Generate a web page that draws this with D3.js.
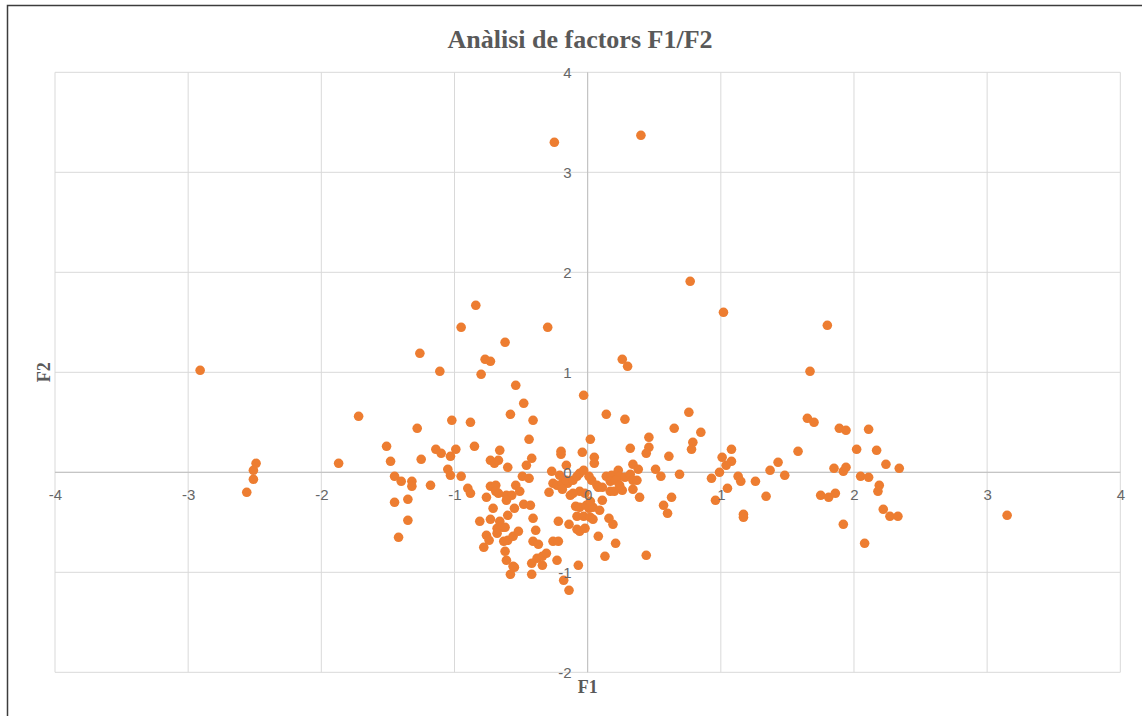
<!DOCTYPE html>
<html>
<head>
<meta charset="utf-8">
<script src="https://cdn.jsdelivr.net/npm/d3@7/dist/d3.min.js"></script>
<style>
  html, body { margin: 0; padding: 0; background: #ffffff; }
  svg { display: block; }
</style>
</head>
<body>
<svg id="chart" width="1142" height="716"></svg>
<script>
// ---- Data ----
const chartTitle = "Anàlisi de factors F1/F2";
const xTitle = "F1";
const yTitle = "F2";
const xTicks = [-4, -3, -2, -1, 0, 1, 2, 3, 4];
const yTicks = [-2, -1, 0, 1, 2, 3, 4];

const f1Values = [
  -2.91, -2.49, -2.51, -2.51, -2.56, -1.87, -1.72, -1.51, -1.48, -1.45, -1.45, -1.42, -1.40,
  -0.84, -0.95, -0.30, -1.26, -0.62, -0.77, -0.73, -1.11, -0.80, -0.54, -0.03, 0.26, 0.30,
  -0.48, -0.58, -0.41, 0.14, 0.28, -1.02, -0.88, -1.28, -0.44, 0.02, -1.14, -1.10, -1.03,
  -0.99, -0.85, -1.25, -0.66, -0.73, -0.70, -0.67, -0.60, -0.46, -0.42, -0.20, -0.20, -0.04,
  0.05, 0.05, 0.32, 0.34, -1.05,
  -1.32, -1.32, -1.18, -1.35, -1.35, -1.03, -0.95, -0.90, -0.88, -0.81, -0.78, -0.76, -0.74,
  -0.76, -0.73, -0.69, -0.69, -0.67, -0.71, -0.73, -0.66, -0.68, -0.64, -0.62, -0.68, -0.63,
  -0.60, -0.56, -0.52, -0.62, -0.61, -0.56, -0.55, -0.58, -0.61, -0.57, -0.61, -0.55, -0.60,
  -0.54, -0.51, -0.49, -0.44, -0.48, -0.43, -0.41, -0.39, -0.41, -0.37, -0.38, -0.34, -0.31,
  -0.42, -0.34, -0.42, -0.27, -0.29, -0.26, -0.23, -0.19, -0.15, -0.21, -0.16, -0.11, -0.08,
  -0.06, -0.06, -0.02, -0.13, -0.11, -0.19, 0.03, 0.07, 0.08, -0.09, -0.06, -0.01, 0.01,
  0.04, -0.08, -0.03, 0.02, 0.04, 0.09, 0.11, -0.14, -0.22, -0.08, -0.06, -0.02, -0.26,
  -0.22, -0.23, -0.07, -0.18, -0.14, 0.08, 0.21, 0.13, 0.16, 0.19, 0.17,
  -0.16, -0.03, 0.01, 0.02,
  0.76, 0.65, 0.85, 0.46, 0.46, 0.44, 0.79, 0.78, 0.61, 0.38, 0.51, 0.55, 0.69, 0.14, 0.18,
  0.23, 0.24, 0.28, 0.32, 0.34, 0.37, 0.17, 0.21, 0.20, 0.26, 0.34, 0.24, 0.39, 0.11, 0.44,
  0.63, 0.57, 0.60, 0.93, 0.99, 1.01, 1.08, 1.08, 1.04, 0.96, 1.05, 1.13, 1.15, 1.17, 1.17,
  1.26, 1.34, 1.37, 1.43, 1.48, 1.58, 1.65, 1.70, 1.89, 1.94, 1.75, 1.81, 1.86, 1.85, 1.92,
  1.94, 1.92, 2.02,
  1.80, 1.67, 2.11, 2.17, 2.24, 2.34, 2.05, 2.11, 2.19, 2.18, 2.22, 2.27, 2.33, 2.08, 3.15,
  -0.25, 0.40, 0.77, 1.02
];

const f2Values = [
  1.02, 0.09, 0.02, -0.07, -0.20, 0.09, 0.56, 0.26, 0.11, -0.04, -0.30, -0.65, -0.09,
  1.67, 1.45, 1.45, 1.19, 1.30, 1.13, 1.11, 1.01, 0.98, 0.87, 0.77, 1.13, 1.06,
  0.69, 0.58, 0.52, 0.58, 0.53, 0.52, 0.50, 0.44, 0.33, 0.33, 0.23, 0.19, 0.16,
  0.23, 0.26, 0.13, 0.22, 0.12, 0.09, 0.12, 0.05, 0.07, 0.14, 0.21, 0.18, 0.20,
  0.15, 0.09, 0.24, 0.08, 0.03,
  -0.09, -0.14, -0.13, -0.27, -0.48, -0.03, -0.04, -0.16, -0.21, -0.49, -0.75, -0.63, -0.68,
  -0.25, -0.14, -0.13, -0.19, -0.21, -0.36, -0.47, -0.49, -0.56, -0.55, -0.55, -0.61, -0.69,
  -0.68, -0.64, -0.59, -0.79, -0.88, -0.94, -0.95, -1.02, -0.23, -0.23, -0.28, -0.36, -0.43,
  -0.13, -0.19, -0.04, -0.06, -0.32, -0.33, -0.46, -0.58, -0.69, -0.72, -0.86, -0.84, -0.81,
  -0.91, -0.93, -1.02, 0.01, -0.20, -0.11, -0.13, -0.11, -0.11, -0.03, -0.08, -0.08, -0.04,
  -0.01, -0.19, -0.21, -0.23, -0.21, -0.17, -0.08, -0.13, -0.15, -0.34, -0.35, -0.33, -0.36,
  -0.35, -0.44, -0.44, -0.45, -0.47, -0.38, -0.28, -0.52, -0.49, -0.57, -0.59, -0.56, -0.69,
  -0.69, -0.88, -0.93, -1.08, -1.18, -0.64, -0.71, -0.84, -0.46, -0.52, -0.19,
  0.07, 0.02, -0.04, -0.29,
  0.60, 0.44, 0.40, 0.35, 0.25, 0.19, 0.30, 0.23, 0.16, 0.03, 0.03, -0.04, -0.02, -0.04, -0.03,
  0.02, -0.04, -0.05, -0.02, -0.08, -0.08, -0.09, -0.08, -0.19, -0.18, -0.17, -0.13, -0.25, -0.15, -0.83,
  -0.25, -0.33, -0.41, -0.06, 0.00, 0.15, 0.23, 0.11, 0.07, -0.28, -0.16, -0.04, -0.09, -0.42, -0.45,
  -0.09, -0.24, 0.02, 0.10, -0.03, 0.21, 0.54, 0.50, 0.44, 0.42, -0.23, -0.25, -0.21, 0.04, 0.01,
  0.05, -0.52, 0.23,
  1.47, 1.01, 0.43, 0.22, 0.08, 0.04, -0.04, -0.05, -0.13, -0.19, -0.37, -0.44, -0.44, -0.71, -0.43,
  3.30, 3.37, 1.91, 1.60
];

const points = f1Values.map((v, i) => ({ f1: v, f2: f2Values[i] }));

// ---- Layout ----
const svg = d3.select("#chart");
const plot = { left: 55, right: 1120.3, top: 72.3, bottom: 672.3 };

const x = d3.scaleLinear().domain([-4, 4]).range([plot.left, plot.right]);
const y = d3.scaleLinear().domain([-2, 4]).range([plot.bottom, plot.top]);

// outer chart frame
svg.append("rect")
  .attr("x", 7.5).attr("y", 5.5)
  .attr("width", 1400).attr("height", 1000)
  .attr("fill", "#ffffff")
  .attr("stroke", "#3c3c3c")
  .attr("stroke-width", 1.5);

// gridlines
const grid = svg.append("g");
grid.selectAll("line.v").data(xTicks).join("line")
  .attr("x1", d => x(d)).attr("x2", d => x(d))
  .attr("y1", plot.top).attr("y2", plot.bottom)
  .attr("stroke", "#d9d9d9").attr("stroke-width", 1);
grid.selectAll("line.h").data(yTicks).join("line")
  .attr("x1", plot.left).attr("x2", plot.right)
  .attr("y1", d => y(d)).attr("y2", d => y(d))
  .attr("stroke", "#d9d9d9").attr("stroke-width", 1);

// axis lines through zero
svg.append("line")
  .attr("x1", x(0)).attr("x2", x(0))
  .attr("y1", plot.top).attr("y2", plot.bottom)
  .attr("stroke", "#bfbfbf").attr("stroke-width", 1);
svg.append("line")
  .attr("x1", plot.left).attr("x2", plot.right)
  .attr("y1", y(0)).attr("y2", y(0))
  .attr("stroke", "#bfbfbf").attr("stroke-width", 1);

// points
svg.append("g").selectAll("circle").data(points).join("circle")
  .attr("cx", d => x(d.f1))
  .attr("cy", d => y(d.f2))
  .attr("r", 4.8)
  .attr("fill", "#ED7D31");

// tick labels via d3 axes (drawn on top of the points)
const fmt = d => d3.format("d")(d).replace("\u2212", "-");
const xAxis = d3.axisBottom(x).tickValues(xTicks).tickSize(0).tickPadding(17).tickFormat(fmt);
const gx = svg.append("g").attr("transform", `translate(0,${y(0)})`).call(xAxis);
const yAxis = d3.axisLeft(y).tickValues(yTicks).tickSize(0).tickPadding(16).tickFormat(fmt);
const gy = svg.append("g").attr("transform", `translate(${x(0)},0)`).call(yAxis);

[gx, gy].forEach(g => {
  g.select(".domain").remove();
  g.selectAll("text")
    .attr("fill", "#666666")
    .style("font-family", "'Liberation Sans', Arial, sans-serif")
    .style("font-size", "15px");
});

// title
svg.append("text")
  .attr("x", 580).attr("y", 48)
  .attr("text-anchor", "middle")
  .attr("fill", "#595959")
  .style("font-family", "'Liberation Serif', 'DejaVu Serif', serif")
  .style("font-weight", "bold")
  .style("font-size", "26px")
  .text(chartTitle);

// axis titles
svg.append("text")
  .attr("x", x(0)).attr("y", 693)
  .attr("text-anchor", "middle")
  .attr("fill", "#595959")
  .style("font-family", "'Liberation Serif', 'DejaVu Serif', serif")
  .style("font-weight", "bold")
  .style("font-size", "18px")
  .text(xTitle);

svg.append("text")
  .attr("transform", `translate(50,${y(1)}) rotate(-90)`)
  .attr("text-anchor", "middle")
  .attr("fill", "#595959")
  .style("font-family", "'Liberation Serif', 'DejaVu Serif', serif")
  .style("font-weight", "bold")
  .style("font-size", "18px")
  .text(yTitle);
</script>
</body>
</html>
